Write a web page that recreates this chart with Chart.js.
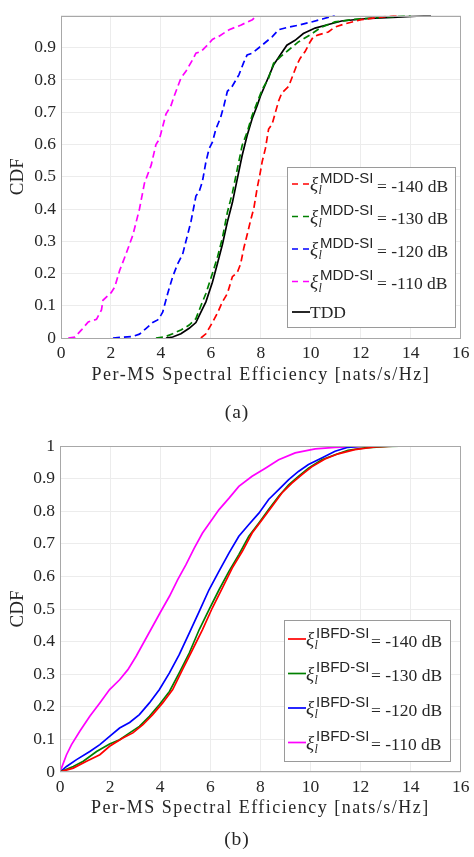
<!DOCTYPE html>
<html>
<head>
<meta charset="utf-8">
<script src="https://cdn.jsdelivr.net/npm/chart.js@4.4.1/dist/chart.umd.min.js"></script>
<style>
  html, body { margin:0; padding:0; background:#fff; }
  #page { position:relative; width:474px; height:857px; overflow:hidden; background:#fff; }
  canvas { position:absolute; left:0; }
  #cA { top:0; }
  #cB { top:430px; }
  svg#ov { position:absolute; left:0; top:0; }
  .serif { font-family:"Liberation Serif", serif; fill:#262626; }
  .sans { font-family:"Liberation Sans", sans-serif; fill:#262626; }
</style>
</head>
<body>
<div id="page">
  <canvas id="cA" width="474" height="395"></canvas>
  <canvas id="cB" width="474" height="395"></canvas>
  <svg id="ov" width="474" height="857" xmlns="http://www.w3.org/2000/svg"></svg>
</div>
<script>
// ---------------- DATA ----------------
const xTickValues = [0, 2, 4, 6, 8, 10, 12, 14, 16];
const yTickValues = [0, 0.1, 0.2, 0.3, 0.4, 0.5, 0.6, 0.7, 0.8, 0.9, 1];
const yTickLabelsA = ['0', '0.1', '0.2', '0.3', '0.4', '0.5', '0.6', '0.7', '0.8', '0.9', ''];
const yTickLabelsB = ['0', '0.1', '0.2', '0.3', '0.4', '0.5', '0.6', '0.7', '0.8', '0.9', '1'];

const xAxisTitle = 'Per-MS Spectral Efficiency [nats/s/Hz]';
const yAxisTitle = 'CDF';
const captionA = '(a)';
const captionB = '(b)';

const seriesLevels = ['-140 dB', '-130 dB', '-120 dB', '-110 dB'];
const seriesColors = ['#ff0000', '#008000', '#0000ff', '#ff00ff'];
const tddLabel = 'TDD';

// (a) MDD-SI, xi = -140 dB
const mdd140X = [5.6, 5.8, 6.06, 6.26, 6.46, 6.66, 6.86, 7.06, 7.19, 7.32, 7.45, 7.58, 7.72, 7.85, 7.98, 8.05, 8.18, 8.31, 8.45, 8.58, 8.71, 8.84, 9.11, 9.24, 9.44, 9.57, 9.77, 9.97, 10.1, 10.3, 10.7, 10.96, 11.36, 12.02, 12.8, 13.48];
const mdd140Y = [0, 0.013, 0.048, 0.077, 0.112, 0.138, 0.19, 0.204, 0.23, 0.28, 0.32, 0.362, 0.403, 0.464, 0.515, 0.546, 0.587, 0.648, 0.663, 0.699, 0.735, 0.76, 0.78, 0.806, 0.847, 0.867, 0.888, 0.918, 0.934, 0.94, 0.949, 0.964, 0.974, 0.987, 0.995, 1];
// (a) MDD-SI, xi = -130 dB
const mdd130X = [3.8, 4.14, 4.47, 4.8, 5.13, 5.4, 5.6, 5.8, 6.06, 6.26, 6.46, 6.66, 6.86, 7.06, 7.25, 7.45, 7.65, 7.85, 8.05, 8.31, 8.51, 8.78, 9.11, 9.5, 9.97, 10.43, 10.96, 11.6, 12.55, 14.0];
const mdd130Y = [0, 0.003, 0.013, 0.025, 0.04, 0.06, 0.1, 0.138, 0.2, 0.25, 0.31, 0.39, 0.45, 0.525, 0.597, 0.638, 0.69, 0.73, 0.77, 0.806, 0.852, 0.872, 0.893, 0.918, 0.94, 0.964, 0.98, 0.987, 0.993, 1];
// (a) MDD-SI, xi = -120 dB
const mdd120X = [2.08, 2.88, 3.14, 3.41, 3.67, 3.87, 4.0, 4.07, 4.27, 4.47, 4.67, 4.87, 5.0, 5.2, 5.4, 5.53, 5.66, 5.8, 5.93, 6.06, 6.2, 6.39, 6.52, 6.66, 6.85, 7.12, 7.31, 7.45, 7.65, 8.05, 8.45, 8.71, 9.11, 9.5, 10.03, 10.5, 10.96];
const mdd120Y = [0, 0.005, 0.012, 0.03, 0.048, 0.056, 0.071, 0.08, 0.138, 0.19, 0.23, 0.26, 0.3, 0.36, 0.44, 0.454, 0.485, 0.546, 0.587, 0.607, 0.648, 0.684, 0.72, 0.765, 0.78, 0.816, 0.854, 0.878, 0.883, 0.908, 0.934, 0.956, 0.964, 0.97, 0.98, 0.99, 1];
// (a) MDD-SI, xi = -110 dB
const mdd110X = [0.29, 0.56, 0.82, 1.09, 1.42, 1.62, 1.68, 2.0, 2.15, 2.35, 2.6, 2.88, 3.14, 3.34, 3.61, 3.8, 3.94, 4.2, 4.4, 4.53, 4.8, 5.0, 5.26, 5.4, 5.6, 5.86, 6.06, 6.33, 6.73, 7.19, 7.66, 7.85];
const mdd110Y = [0, 0.003, 0.025, 0.05, 0.058, 0.087, 0.117, 0.14, 0.158, 0.21, 0.26, 0.32, 0.4, 0.48, 0.536, 0.6, 0.617, 0.694, 0.72, 0.75, 0.806, 0.827, 0.862, 0.883, 0.888, 0.908, 0.926, 0.936, 0.956, 0.97, 0.987, 1];
// (a) TDD
const tddX = [4.2, 4.47, 4.8, 5.13, 5.4, 5.6, 5.8, 6.06, 6.26, 6.46, 6.66, 6.86, 7.06, 7.25, 7.45, 7.65, 7.85, 7.98, 8.18, 8.51, 8.78, 9.04, 9.37, 9.7, 10.17, 10.7, 11.23, 12.15, 13.48, 14.81];
const tddY = [0, 0.003, 0.013, 0.03, 0.048, 0.08, 0.112, 0.173, 0.23, 0.29, 0.36, 0.42, 0.495, 0.566, 0.628, 0.68, 0.72, 0.75, 0.786, 0.847, 0.878, 0.908, 0.923, 0.944, 0.961, 0.972, 0.983, 0.99, 0.995, 1];

// (b) IBFD-SI, xi = -140 dB
const ibfd140X = [0, 0.53, 1.06, 1.59, 1.98, 2.51, 2.91, 3.31, 3.7, 4.1, 4.5, 4.89, 5.29, 5.69, 6.08, 6.48, 6.88, 7.28, 7.67, 8.07, 8.47, 8.86, 9.26, 9.66, 10.05, 10.58, 11.11, 11.77, 12.57, 13.5];
const ibfd140Y = [0, 0.012, 0.033, 0.053, 0.079, 0.104, 0.12, 0.145, 0.176, 0.212, 0.253, 0.314, 0.375, 0.437, 0.503, 0.564, 0.626, 0.677, 0.733, 0.774, 0.815, 0.856, 0.886, 0.912, 0.936, 0.96, 0.976, 0.989, 0.997, 1];
// (b) IBFD-SI, xi = -130 dB
const ibfd130X = [0, 0.53, 0.93, 1.46, 1.98, 2.38, 2.78, 3.17, 3.57, 3.97, 4.37, 4.76, 5.16, 5.56, 5.95, 6.35, 6.75, 7.14, 7.54, 7.94, 8.33, 8.73, 9.13, 9.52, 9.92, 10.45, 10.98, 11.5, 12.17, 13.1, 14.0];
const ibfd130Y = [0, 0.017, 0.033, 0.063, 0.086, 0.099, 0.12, 0.14, 0.171, 0.207, 0.247, 0.304, 0.365, 0.437, 0.498, 0.559, 0.616, 0.667, 0.723, 0.764, 0.805, 0.846, 0.881, 0.907, 0.932, 0.958, 0.973, 0.987, 0.994, 0.999, 1];
// (b) IBFD-SI, xi = -120 dB
const ibfd120X = [0, 0.26, 0.66, 1.19, 1.59, 1.98, 2.38, 2.78, 3.17, 3.57, 3.97, 4.37, 4.76, 5.16, 5.56, 5.95, 6.35, 6.75, 7.14, 7.54, 7.94, 8.33, 8.73, 9.13, 9.52, 9.92, 10.45, 10.98, 11.5, 12.17, 16.0];
const ibfd120Y = [0, 0.017, 0.038, 0.063, 0.084, 0.109, 0.135, 0.152, 0.176, 0.212, 0.253, 0.304, 0.36, 0.426, 0.493, 0.559, 0.616, 0.672, 0.723, 0.759, 0.794, 0.836, 0.866, 0.897, 0.922, 0.943, 0.963, 0.984, 0.996, 1, 1];
// (b) IBFD-SI, xi = -110 dB
const ibfd110X = [0, 0.26, 0.46, 0.79, 1.19, 1.59, 1.98, 2.38, 2.71, 3.04, 3.37, 3.7, 4.03, 4.37, 4.7, 5.03, 5.36, 5.69, 6.02, 6.35, 6.75, 7.14, 7.67, 8.2, 8.73, 9.39, 10.19, 10.98, 12.17, 14.0];
const ibfd110Y = [0, 0.053, 0.084, 0.125, 0.171, 0.212, 0.253, 0.283, 0.314, 0.355, 0.401, 0.447, 0.493, 0.539, 0.59, 0.636, 0.687, 0.733, 0.769, 0.805, 0.84, 0.876, 0.907, 0.932, 0.958, 0.979, 0.991, 0.996, 0.999, 1];

// ---------------- HELPERS ----------------
const pts = (xs, ys) => xs.map((x, i) => ({ x: x, y: ys[i] }));
const SERIF = '"Liberation Serif", serif';
const TXT = '#262626';

const boxPlugin = {
  id: 'box',
  afterDatasetsDraw(chart) {
    const { ctx, chartArea: a } = chart;
    ctx.save();
    ctx.strokeStyle = '#a8a8a8';
    ctx.lineWidth = 1;
    ctx.strokeRect(Math.round(a.left) + 0.5, Math.round(a.top) + 0.5,
                   Math.round(a.right - a.left) - 1, Math.round(a.bottom - a.top) - 1);
    ctx.restore();
  }
};

// widen the axis title a little (the original uses a wider serif face)
function spacedTitle(spacing) {
  return s => {
    if (s._spacedTitle) return;
    s._spacedTitle = true;
    const orig = s.drawTitle.bind(s);
    s.drawTitle = function () {
      const ctx = s.ctx;
      const prev = ctx.letterSpacing;
      ctx.letterSpacing = spacing;
      orig();
      ctx.letterSpacing = prev || '0px';
    };
  };
}

function makeOptions(yLabels, yWidth, xHeight, padTop, titleBottomPad) {
  return {
    responsive: false,
    animation: false,
    devicePixelRatio: 1,
    layout: { padding: { top: padTop, right: 11, left: 0, bottom: 0 } },
    plugins: { legend: { display: false }, tooltip: { enabled: false } },
    elements: { point: { radius: 0 }, line: { tension: 0 } },
    scales: {
      x: {
        type: 'linear', min: 0, max: 16,
        afterBuildTicks: s => { s.ticks = xTickValues.map(v => ({ value: v })); },
        afterFit: s => { s.height = xHeight; },
        afterUpdate: spacedTitle('1.5px'),
        grid: { color: '#ececec', lineWidth: 1, drawTicks: false },
        border: { display: false },
        ticks: { font: { family: SERIF, size: 17.5 }, color: TXT, padding: 4.5, maxRotation: 0,
                 callback: v => String(v) },
        title: { display: true, text: xAxisTitle, font: { family: SERIF, size: 18 }, color: TXT,
                 padding: { top: 0, bottom: titleBottomPad } }
      },
      y: {
        type: 'linear', min: 0, max: 1,
        afterBuildTicks: s => { s.ticks = yTickValues.map(v => ({ value: v })); },
        afterFit: s => { s.width = yWidth; },
        grid: { color: '#ececec', lineWidth: 1, drawTicks: false },
        border: { display: false },
        ticks: { font: { family: SERIF, size: 17.5 }, color: TXT, padding: 5,
                 callback: (v, i) => yLabels[i] },
        title: { display: true, text: yAxisTitle, font: { family: SERIF, size: 19 }, color: TXT,
                 padding: { top: 6.5, bottom: 0 } }
      }
    }
  };
}

const dash = [7, 4];
const lw = 1.7;
const dataA = [
  { label: 'MDD-SI ' + seriesLevels[0], data: pts(mdd140X, mdd140Y), borderColor: seriesColors[0], borderDash: dash, borderWidth: lw },
  { label: 'MDD-SI ' + seriesLevels[1], data: pts(mdd130X, mdd130Y), borderColor: seriesColors[1], borderDash: dash, borderWidth: lw },
  { label: 'MDD-SI ' + seriesLevels[2], data: pts(mdd120X, mdd120Y), borderColor: seriesColors[2], borderDash: dash, borderWidth: lw },
  { label: 'MDD-SI ' + seriesLevels[3], data: pts(mdd110X, mdd110Y), borderColor: seriesColors[3], borderDash: dash, borderWidth: lw },
  { label: tddLabel, data: pts(tddX, tddY), borderColor: '#000000', borderWidth: lw }
];
const dataB = [
  { label: 'IBFD-SI ' + seriesLevels[0], data: pts(ibfd140X, ibfd140Y), borderColor: seriesColors[0], borderWidth: lw },
  { label: 'IBFD-SI ' + seriesLevels[1], data: pts(ibfd130X, ibfd130Y), borderColor: seriesColors[1], borderWidth: lw },
  { label: 'IBFD-SI ' + seriesLevels[2], data: pts(ibfd120X, ibfd120Y), borderColor: seriesColors[2], borderWidth: lw },
  { label: 'IBFD-SI ' + seriesLevels[3], data: pts(ibfd110X, ibfd110Y), borderColor: seriesColors[3], borderWidth: lw }
];
dataA.concat(dataB).forEach(d => { d.fill = false; d.pointRadius = 0; });

new Chart(document.getElementById('cA'), {
  type: 'line', data: { datasets: dataA },
  options: makeOptions(yTickLabelsA, 61, 57, 12, 8.6), plugins: [boxPlugin]
});
new Chart(document.getElementById('cB'), {
  type: 'line', data: { datasets: dataB },
  options: makeOptions(yTickLabelsB, 60, 53, 16, 5.6), plugins: [boxPlugin]
});

// ---------------- LEGENDS & CAPTIONS (SVG text) ----------------
const NS = 'http://www.w3.org/2000/svg';
const ov = document.getElementById('ov');
function el(tag, attrs, text) {
  const e = document.createElementNS(NS, tag);
  for (const k in attrs) e.setAttribute(k, attrs[k]);
  if (text !== undefined) e.textContent = text;
  ov.appendChild(e);
  return e;
}
function legendBox(x, y, w, h) {
  el('rect', { x: x + 0.5, y: y + 0.5, width: w, height: h, fill: '#fff', stroke: '#9a9a9a', 'stroke-width': 1 });
}
function xiEntry(x, y0, supText, level, supW) {
  el('text', { x: x, y: y0 + 6, class: 'serif', 'font-size': 19, 'font-style': 'italic' }, 'ξ');
  el('text', { x: x + 8.5, y: y0 + 10, class: 'serif', 'font-size': 12, 'font-style': 'italic' }, 'l');
  el('text', { x: x + 10, y: y0 - 1.5, class: 'sans', 'font-size': 15 }, supText);
  el('text', { x: x + 10 + supW, y: y0 + 7.5, class: 'serif', 'font-size': 17.5 }, '= ' + level);
}

// Legend (a)
legendBox(287, 167, 168, 160);
for (let i = 0; i < 4; i++) {
  const y0 = 184 + i * 32.5;
  el('line', { x1: 292, y1: y0, x2: 310, y2: y0, stroke: seriesColors[i], 'stroke-width': 1.7, 'stroke-dasharray': '6 5' });
  xiEntry(310, y0, 'MDD-SI', seriesLevels[i], 57);
}
el('line', { x1: 292, y1: 312, x2: 310, y2: 312, stroke: '#000', 'stroke-width': 1.7 });
el('text', { x: 310, y: 318, class: 'serif', 'font-size': 17.5 }, tddLabel);

// Legend (b)
legendBox(284, 620, 166, 141);
for (let i = 0; i < 4; i++) {
  const y0 = 639 + i * 34.5;
  el('line', { x1: 288, y1: y0, x2: 306, y2: y0, stroke: seriesColors[i], 'stroke-width': 1.7 });
  xiEntry(306, y0, 'IBFD-SI', seriesLevels[i], 55);
}

// Captions
el('text', { x: 237, y: 418, class: 'serif', 'font-size': 19.5, 'text-anchor': 'middle', 'letter-spacing': 1 }, captionA);
el('text', { x: 237, y: 845, class: 'serif', 'font-size': 19.5, 'text-anchor': 'middle', 'letter-spacing': 1 }, captionB);
</script>
</body>
</html>
